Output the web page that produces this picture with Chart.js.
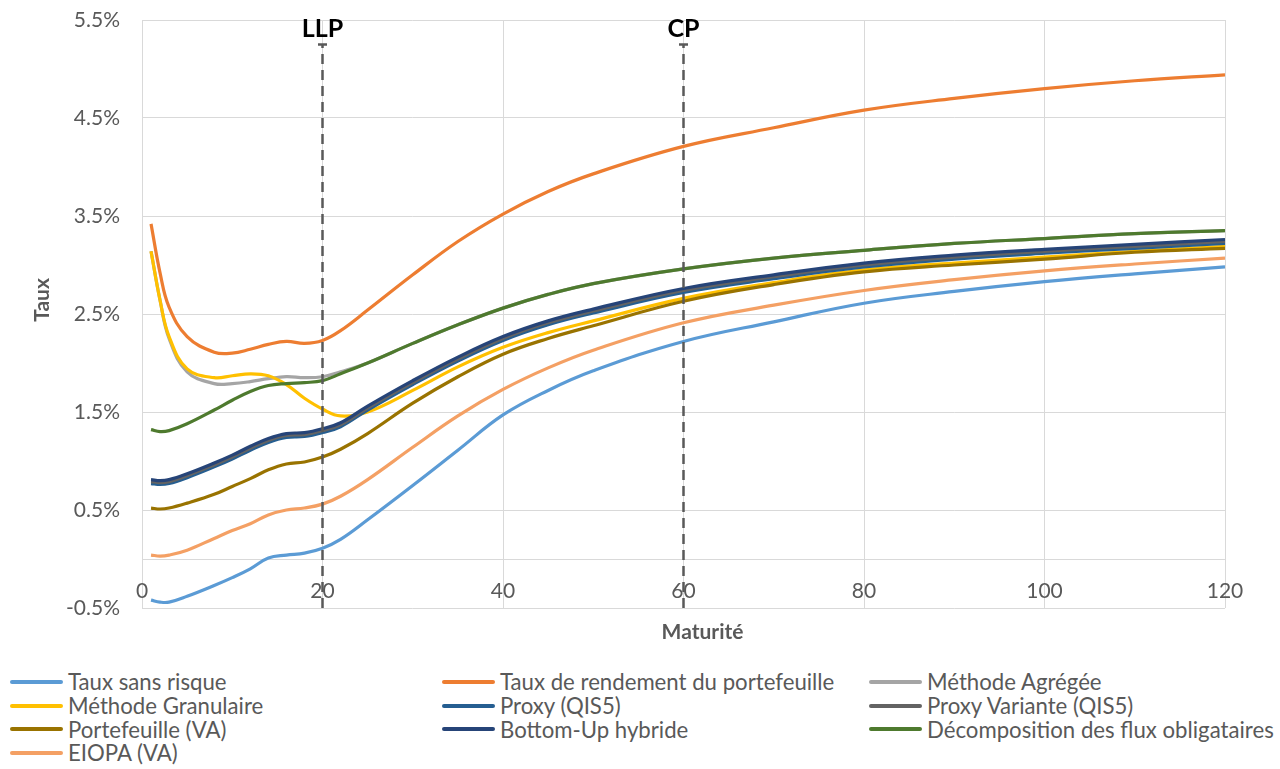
<!DOCTYPE html>
<html lang="fr">
<head>
<meta charset="utf-8">
<title>Taux par maturité</title>
<script src="https://cdn.jsdelivr.net/npm/chart.js@4.4.1/dist/chart.umd.min.js"></script>
<style>
	html, body { margin: 0; padding: 0; background: #fff; }
	body { width: 1280px; height: 769px; position: relative; overflow: hidden; font-family: Lato, "Liberation Sans", sans-serif; }
	#chartBox { position: absolute; left: 0; top: 0; width: 1280px; height: 650px; }
	#legend {
		position: absolute; left: 10px; top: 670px;
		display: grid; grid-template-columns: 432px 427px auto; grid-auto-rows: 23.7px;
		color: #595959; font-size: 22.2px;
	}
	.item { display: flex; align-items: center; white-space: nowrap; }
	.swatch { width: 53px; height: 4px; border-radius: 2px; margin-right: 5px; flex: none; }
</style>
</head>
<body>
<div id="chartBox"><canvas id="ratesChart"></canvas></div>
<div id="legend"></div>

<script>
// Maturités (années)
const maturities = [1, 2, 3, 5, 8, 10, 12, 14, 16, 18, 20, 22, 25, 30, 35, 40, 45, 50, 60, 70, 80, 90, 100, 110, 120];

// Courbes de taux (%)
const tauxSansRisque = [-0.42, -0.44, -0.44, -0.38, -0.27, -0.19, -0.10, 0.01, 0.04, 0.06, 0.11, 0.20, 0.40, 0.75, 1.11, 1.47, 1.72, 1.92, 2.22, 2.42, 2.61, 2.73, 2.83, 2.91, 2.98];
const rendementPortefeuille = [3.42, 2.92, 2.57, 2.27, 2.11, 2.10, 2.14, 2.19, 2.22, 2.20, 2.23, 2.33, 2.54, 2.90, 3.24, 3.52, 3.75, 3.93, 4.21, 4.40, 4.58, 4.70, 4.80, 4.88, 4.94];
const methodeAgregee = [3.14, 2.64, 2.25, 1.91, 1.79, 1.79, 1.81, 1.84, 1.86, 1.85, 1.86, 1.91, 2.00, 2.20, 2.39, 2.56, 2.70, 2.81, 2.96, 3.07, 3.15, 3.22, 3.27, 3.32, 3.35];
const methodeGranulaire = [3.14, 2.64, 2.27, 1.94, 1.85, 1.87, 1.89, 1.87, 1.78, 1.64, 1.53, 1.46, 1.50, 1.72, 1.96, 2.16, 2.31, 2.43, 2.66, 2.82, 2.95, 3.02, 3.08, 3.14, 3.19];
const proxyQis5 = [0.77, 0.76, 0.77, 0.83, 0.94, 1.02, 1.11, 1.19, 1.24, 1.25, 1.29, 1.35, 1.52, 1.78, 2.02, 2.23, 2.39, 2.51, 2.72, 2.86, 2.98, 3.06, 3.12, 3.17, 3.22];
const proxyVariante = [0.79, 0.78, 0.79, 0.85, 0.96, 1.04, 1.13, 1.21, 1.26, 1.27, 1.31, 1.37, 1.54, 1.80, 2.04, 2.25, 2.41, 2.53, 2.74, 2.88, 3.00, 3.08, 3.14, 3.19, 3.24];
const portefeuilleVA = [0.52, 0.51, 0.52, 0.57, 0.66, 0.74, 0.82, 0.91, 0.97, 0.99, 1.04, 1.12, 1.28, 1.59, 1.86, 2.09, 2.25, 2.38, 2.63, 2.80, 2.93, 3.00, 3.06, 3.13, 3.17];
const bottomUpHybride = [0.81, 0.80, 0.81, 0.87, 0.98, 1.06, 1.15, 1.23, 1.28, 1.29, 1.33, 1.39, 1.56, 1.82, 2.06, 2.27, 2.43, 2.55, 2.76, 2.90, 3.02, 3.10, 3.16, 3.21, 3.26];
const decompositionFlux = [1.32, 1.30, 1.31, 1.38, 1.52, 1.62, 1.71, 1.77, 1.79, 1.80, 1.82, 1.89, 2.00, 2.20, 2.39, 2.56, 2.70, 2.81, 2.96, 3.07, 3.15, 3.22, 3.27, 3.32, 3.35];
const eiopaVA = [0.04, 0.03, 0.04, 0.09, 0.21, 0.29, 0.36, 0.45, 0.50, 0.52, 0.56, 0.64, 0.81, 1.14, 1.46, 1.73, 1.95, 2.13, 2.41, 2.59, 2.74, 2.85, 2.94, 3.01, 3.07];

const seriesNames = [
	'Taux sans risque', 'Taux de rendement du portefeuille', 'Méthode Agrégée',
	'Méthode Granulaire', 'Proxy (QIS5)', 'Proxy Variante (QIS5)',
	'Portefeuille (VA)', 'Bottom-Up hybride', 'Décomposition des flux obligataires',
	'EIOPA (VA)'
];
const seriesValues = [
	tauxSansRisque, rendementPortefeuille, methodeAgregee,
	methodeGranulaire, proxyQis5, proxyVariante,
	portefeuilleVA, bottomUpHybride, decompositionFlux,
	eiopaVA
];
const seriesColors = [
	'#5B9BD5', '#ED7D31', '#A5A5A5',
	'#FFC000', '#255E91', '#636363',
	'#997300', '#264478', '#4E7A2E',
	'#F4A064'
];

// Repères verticaux (LLP, CP)
const markerNames = ['LLP', 'CP'];
const markerMaturities = [20, 60];
const markerTop = 5.25;

// Graduations et titres d'axes
const yTicks = [-0.5, 0.5, 1.5, 2.5, 3.5, 4.5, 5.5];
const xTickStep = 20;
const xTitle = 'Maturité';
const yTitle = 'Taux';

const FONT = 'Lato, "Liberation Sans", sans-serif';
const TEXT_GREY = '#595959';
const GRID_GREY = '#D9D9D9';

/* -------------------------------------------------------------
 * Datasets
 * ------------------------------------------------------------- */

const curveDatasets = seriesNames.map((name, i) => ({
	label: name,
	data: maturities.map((m, j) => ({ x: m, y: seriesValues[i][j] })),
	borderColor: seriesColors[i],
	backgroundColor: seriesColors[i],
	borderWidth: 3.2,
	pointRadius: 0,
	tension: 0.4,
	// later series sit on top
	order: seriesNames.length - i
}));

const markerDatasets = markerNames.map((name, i) => ({
	label: name,
	data: [
		{ x: markerMaturities[i], y: yTicks[0] },
		{ x: markerMaturities[i], y: markerTop }
	],
	borderColor: TEXT_GREY,
	borderWidth: 2.5,
	borderDash: [10, 6],
	pointStyle: 'line',
	pointRadius: [0, 4.5],
	pointBorderColor: TEXT_GREY,
	pointBorderWidth: 2.5,
	tension: 0,
	order: -1
}));

/* -------------------------------------------------------------
 * LLP / CP labels and axis titles
 * ------------------------------------------------------------- */

const extraText = {
	id: 'extraText',
	afterDatasetsDraw(chart) {
		const { ctx, chartArea, scales: { x, y } } = chart;
		ctx.save();
		ctx.font = 'bold 25px ' + FONT;
		ctx.fillStyle = '#000';
		ctx.textAlign = 'center';
		ctx.textBaseline = 'alphabetic';
		markerNames.forEach((name, i) => {
			ctx.fillText(name, x.getPixelForValue(markerMaturities[i]), y.getPixelForValue(markerTop) - 8);
		});

		ctx.font = 'bold 21px ' + FONT;
		ctx.fillStyle = TEXT_GREY;
		ctx.textBaseline = 'middle';
		ctx.fillText(xTitle, (chartArea.left + chartArea.right) / 2 + 19, chartArea.bottom + 24);

		ctx.translate(42, (chartArea.top + chartArea.bottom) / 2 - 14);
		ctx.rotate(-Math.PI / 2);
		ctx.fillText(yTitle, 0, 0);
		ctx.restore();
	}
};

new Chart(document.getElementById('ratesChart'), {
	type: 'line',
	data: { datasets: curveDatasets.concat(markerDatasets) },
	plugins: [extraText],
	options: {
		responsive: true,
		maintainAspectRatio: false,
		animation: false,
		layout: { padding: { left: 0, right: 55, top: 20, bottom: 42 } },
		plugins: {
			legend: { display: false },
			tooltip: { enabled: false }
		},
		scales: {
			x: {
				type: 'linear',
				position: { y: 0 },
				min: 0,
				max: 120,
				ticks: {
					stepSize: xTickStep,
					color: TEXT_GREY,
					font: { family: FONT, size: 21 },
					padding: 20,
					maxRotation: 0
				},
				grid: { color: GRID_GREY, drawTicks: false },
				border: { display: true, color: GRID_GREY, width: 1 }
			},
			y: {
				type: 'linear',
				min: yTicks[0],
				max: yTicks[yTicks.length - 1],
				afterBuildTicks: scale => {
					scale.ticks = yTicks.map(v => ({ value: v }));
				},
				afterFit: scale => {
					scale.width = 142;
				},
				ticks: {
					color: TEXT_GREY,
					font: { family: FONT, size: 21 },
					padding: 0,
					callback: v => v.toFixed(1) + '%'
				},
				// invisible tick marks keep the labels clear of the plot edge
				grid: { color: GRID_GREY, drawTicks: true, tickLength: 22, tickColor: 'rgba(0,0,0,0)' },
				border: { display: false }
			}
		}
	}
});

/* -------------------------------------------------------------
 * Legend (three columns)
 * ------------------------------------------------------------- */

const legendEl = document.getElementById('legend');
seriesNames.forEach((name, i) => {
	const item = document.createElement('div');
	item.className = 'item';
	const swatch = document.createElement('span');
	swatch.className = 'swatch';
	swatch.style.background = seriesColors[i];
	const text = document.createElement('span');
	text.textContent = name;
	item.appendChild(swatch);
	item.appendChild(text);
	legendEl.appendChild(item);
});
</script>
</body>
</html>
